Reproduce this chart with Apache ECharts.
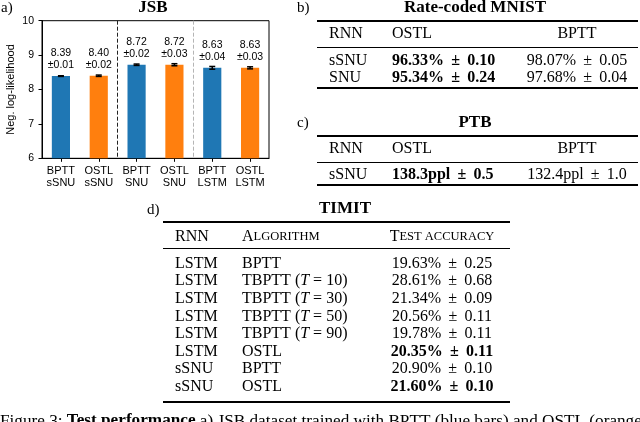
<!DOCTYPE html>
<html>
<head>
<meta charset="utf-8">
<script src="https://cdn.jsdelivr.net/npm/echarts@6/dist/echarts.min.js"></script>
<style>
  html, body { margin: 0; padding: 0; background: #fff; }
  #main { width: 640px; height: 422px; }
</style>
</head>
<body>
<div id="main"></div>
<script>
// a) JSB bars
var categories = ['BPTT\nsSNU', 'OSTL\nsSNU', 'BPTT\nSNU', 'OSTL\nSNU', 'BPTT\nLSTM', 'OSTL\nLSTM'];
var nllMean = [8.39, 8.40, 8.72, 8.72, 8.63, 8.63];
var nllStd = [0.01, 0.02, 0.02, 0.03, 0.04, 0.03];
var barColors = ['#1f77b4', '#ff7f0e', '#1f77b4', '#ff7f0e', '#1f77b4', '#ff7f0e'];

// b) rate-coded MNIST
var mnistHeader = ['RNN', 'OSTL', 'BPTT'];
var mnistRows = [
    ['sSNU', '96.33% ± 0.10', '98.07% ± 0.05'],
    ['SNU', '95.34% ± 0.24', '97.68% ± 0.04']
];

// c) PTB
var ptbHeader = ['RNN', 'OSTL', 'BPTT'];
var ptbRows = [
    ['sSNU', '138.3ppl ± 0.5', '132.4ppl ± 1.0']
];

// d) TIMIT
var timitHeader = ['RNN', 'Algorithm', 'Test accuracy'];
var timitRows = [
    ['LSTM', 'BPTT', '19.63% ± 0.25'],
    ['LSTM', 'TBPTT (T = 10)', '28.61% ± 0.68'],
    ['LSTM', 'TBPTT (T = 30)', '21.34% ± 0.09'],
    ['LSTM', 'TBPTT (T = 50)', '20.56% ± 0.11'],
    ['LSTM', 'TBPTT (T = 90)', '19.78% ± 0.11'],
    ['LSTM', 'OSTL', '20.35% ± 0.11'],
    ['sSNU', 'BPTT', '20.90% ± 0.10'],
    ['sSNU', 'OSTL', '21.60% ± 0.10']
];
var timitBold = [false, false, false, false, false, true, false, true];

var SERIF = '"Liberation Serif", "Times New Roman", serif';
var SANS = '"Liberation Sans", Arial, sans-serif';

var myChart = echarts.init(document.getElementById('main'), null, {renderer: 'canvas'});

// 表格文字
function pm(s) {
    return s.replace(' ± ', ' \u2009±\u2009 ');
}
function smallCaps(s) {
    // 只有首字母大写，其余为小型大写字母
    return '{big|' + s.charAt(0).toUpperCase() + '}{sc|' + s.slice(1).toUpperCase() + '}';
}
function algo(s) {
    return s.replace(/\(T/, '({it|T}');
}
function txt(x, y, text, opt) {
    opt = opt || {};
    return {
        type: 'text',
        x: x, y: y,
        style: {
            text: text,
            fill: '#000',
            font: (opt.bold ? 'bold ' : '') + (opt.size || 16) + 'px ' + (opt.family || SERIF),
            align: opt.align || 'left',
            verticalAlign: 'middle',
            rich: opt.rich
        }
    };
}
function rule(x1, x2, y, w) {
    return {
        type: 'line',
        shape: {x1: x1, y1: y, x2: x2, y2: y},
        style: {stroke: '#000', lineWidth: w}
    };
}

var graphics = [];
var itRich = {it: {fontStyle: 'italic', fontSize: 16, fontFamily: SERIF}};

// a) 标题
graphics.push(txt(1, 8, 'a)', {size: 15}));
graphics.push(txt(153, 8, 'JSB', {size: 17, bold: true, align: 'center'}));

// b) MNIST
graphics.push(txt(297, 8, 'b)', {size: 15}));
graphics.push(txt(475, 8, 'Rate-coded MNIST', {size: 17, bold: true, align: 'center'}));
graphics.push(rule(317, 638, 21, 2));
graphics.push(txt(329, 34, mnistHeader[0]));
graphics.push(txt(392, 34, mnistHeader[1]));
graphics.push(txt(577, 34, mnistHeader[2], {align: 'center'}));
graphics.push(rule(317, 638, 47.5, 1));
mnistRows.forEach(function (r, i) {
    var y = 61 + i * 17;
    graphics.push(txt(329, y, r[0]));
    graphics.push(txt(392, y, pm(r[1]), {bold: true}));
    graphics.push(txt(577, y, pm(r[2]), {align: 'center'}));
});
graphics.push(rule(317, 638, 88, 2));

// c) PTB
graphics.push(txt(297, 123, 'c)', {size: 15}));
graphics.push(txt(475, 123, 'PTB', {size: 17, bold: true, align: 'center'}));
graphics.push(rule(317, 638, 136, 2));
graphics.push(txt(329, 149, ptbHeader[0]));
graphics.push(txt(392, 149, ptbHeader[1]));
graphics.push(txt(577, 149, ptbHeader[2], {align: 'center'}));
graphics.push(rule(317, 638, 162.5, 1));
ptbRows.forEach(function (r, i) {
    var y = 175 + i * 17;
    graphics.push(txt(329, y, r[0]));
    graphics.push(txt(392, y, pm(r[1]), {bold: true}));
    graphics.push(txt(577, y, pm(r[2]), {align: 'center'}));
});
graphics.push(rule(317, 638, 185, 2));

// d) TIMIT
var scRich = {
    big: {fontSize: 16, fontFamily: SERIF},
    sc: {fontSize: 12.5, fontFamily: SERIF}
};
graphics.push(txt(147, 210, 'd)', {size: 15}));
graphics.push(txt(345, 209, 'TIMIT', {size: 17, bold: true, align: 'center'}));
graphics.push(rule(163, 510, 222, 2));
graphics.push(txt(175, 237, timitHeader[0]));
graphics.push(txt(242, 237, smallCaps(timitHeader[1]), {rich: scRich}));
graphics.push(txt(442, 237, smallCaps(timitHeader[2]), {align: 'center', rich: scRich}));
graphics.push(rule(163, 510, 248.5, 1));
timitRows.forEach(function (r, i) {
    var y = 263.5 + i * 17.6;
    graphics.push(txt(175, y, r[0]));
    graphics.push(txt(242, y, algo(r[1]), {rich: itRich}));
    graphics.push(txt(442, y, pm(r[2]), {align: 'center', bold: timitBold[i]}));
});
graphics.push(rule(163, 510, 402, 2));

// 图注 (下半截被裁掉)
graphics.push(txt(0, 421, 'Figure 3: {b|Test performance} a) JSB dataset trained with BPTT (blue bars) and OSTL (orange', {
    size: 17.2,
    rich: {b: {fontWeight: 'bold', fontSize: 17.2, fontFamily: SERIF}}
}));

var option = {
    backgroundColor: '#fff',
    animation: false,
    grid: {
        left: 42, right: 371, top: 20.7, bottom: 263.7,
        show: true, borderColor: '#000', borderWidth: 1
    },
    xAxis: [
        {
            type: 'category',
            data: categories,
            axisLine: {lineStyle: {color: '#000', width: 1}},
            axisTick: {show: true, alignWithLabel: true, length: 3.5, lineStyle: {color: '#000'}},
            axisLabel: {
                color: '#000', fontFamily: SANS, fontSize: 11, lineHeight: 11.5,
                margin: 7, interval: 0
            },
            splitLine: {show: false}
        },
        {
            // 分组虚线
            type: 'value',
            min: 0, max: 6, interval: 2,
            position: 'bottom',
            axisLine: {show: false},
            axisTick: {show: false},
            axisLabel: {show: false},
            splitLine: {
                show: true,
                lineStyle: {
                    type: [4, 2],
                    width: 1,
                    color: ['rgba(0,0,0,0)', '#222', '#b5b5b5', 'rgba(0,0,0,0)']
                }
            }
        }
    ],
    yAxis: {
        type: 'value',
        min: 6, max: 10, interval: 1,
        name: 'Neg. log-likelihood',
        nameLocation: 'middle',
        nameGap: 26,
        nameTextStyle: {color: '#000', fontFamily: SANS, fontSize: 11},
        axisLine: {show: true, lineStyle: {color: '#000', width: 1}},
        axisTick: {show: true, length: 3.5, lineStyle: {color: '#000'}},
        axisLabel: {color: '#000', fontFamily: SANS, fontSize: 10.5, margin: 8},
        splitLine: {show: false}
    },
    series: [
        {
            type: 'bar',
            barWidth: '48%',
            data: nllMean.map(function (v, i) {
                return {value: v, itemStyle: {color: barColors[i]}};
            }),
            label: {
                show: true,
                position: 'top',
                distance: 5,
                color: '#000',
                fontFamily: SANS,
                fontSize: 10.5,
                lineHeight: 11.8,
                formatter: function (p) {
                    return p.value.toFixed(2) + '\n±' + nllStd[p.dataIndex].toFixed(2);
                }
            }
        },
        {
            // 误差棒
            type: 'custom',
            z: 5,
            encode: {x: 0, y: [1, 2]},
            data: nllMean.map(function (v, i) {
                return [i, v - nllStd[i], v + nllStd[i]];
            }),
            renderItem: function (params, api) {
                var lo = api.coord([api.value(0), api.value(1)]);
                var hi = api.coord([api.value(0), api.value(2)]);
                var half = 3;
                var st = {stroke: '#000', lineWidth: 1.5};
                return {
                    type: 'group',
                    children: [
                        {type: 'line', shape: {x1: hi[0], y1: hi[1], x2: lo[0], y2: lo[1]}, style: st},
                        {type: 'line', shape: {x1: hi[0] - half, y1: hi[1], x2: hi[0] + half, y2: hi[1]}, style: st},
                        {type: 'line', shape: {x1: lo[0] - half, y1: lo[1], x2: lo[0] + half, y2: lo[1]}, style: st}
                    ]
                };
            }
        }
    ],
    graphic: graphics
};

myChart.setOption(option);
</script>
</body>
</html>
